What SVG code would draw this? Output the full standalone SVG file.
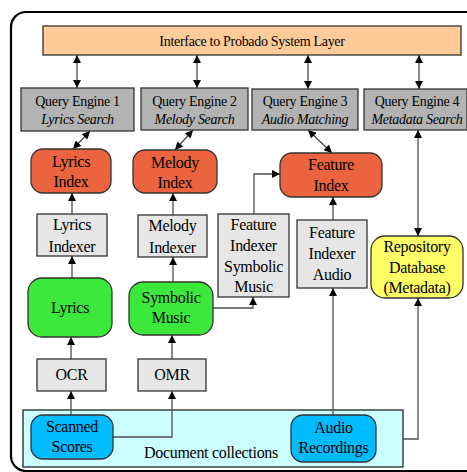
<svg xmlns="http://www.w3.org/2000/svg" width="467" height="472" viewBox="0 0 467 472">
<defs>
<marker id="ah" viewBox="0 0 10 10" refX="10" refY="5" markerWidth="8" markerHeight="8" markerUnits="userSpaceOnUse" orient="auto-start-reverse">
<path d="M0,0 L10,5 L0,10 z" fill="#000"/>
</marker>
<style>
text{font-family:"Liberation Serif","Times New Roman",serif;fill:#000;text-anchor:middle}
.t16{font-size:16px;letter-spacing:-0.3px}
.t14{font-size:14px;letter-spacing:-0.3px}
.it{font-style:italic}
.box{stroke:#333;stroke-width:1.3}
.qe{fill:#b3b3b3}
.ix{fill:#eb643f}
.lg{fill:#e6e6e6}
.gr{fill:#3ce83c}
.bl{fill:#00bbff}
.ye{fill:#ffff66}
.con{fill:none;stroke:#4d4d4d;stroke-width:1.3}
.a1{marker-end:url(#ah)}
.a2{marker-start:url(#ah);marker-end:url(#ah)}
</style>
</defs>
<rect width="467" height="472" fill="#fff"/>
<rect x="11" y="12" width="480" height="459" rx="15" fill="none" stroke="#000" stroke-width="2.2"/>

<g id="collections">
<rect x="23" y="410" width="380" height="57" fill="#ccffff" stroke="#222" stroke-width="1.3"/>
<text class="t16" x="211" y="458">Document collections</text>
</g>

<g id="connectors">
<line class="con a2" x1="77" y1="55" x2="77" y2="88"/>
<line class="con a2" x1="197" y1="55" x2="197" y2="88"/>
<line class="con a2" x1="308" y1="55" x2="308" y2="89"/>
<line class="con a2" x1="419" y1="55" x2="419" y2="89"/>
<line class="con a2" x1="90" y1="131" x2="73" y2="149"/>
<line class="con a2" x1="193" y1="130" x2="175" y2="150"/>
<line class="con a2" x1="308" y1="130" x2="332" y2="153"/>
<line class="con a2" x1="418" y1="130" x2="418" y2="236"/>
<line class="con a1" x1="72" y1="214" x2="72" y2="193"/>
<line class="con a1" x1="72" y1="278" x2="72" y2="256"/>
<line class="con a1" x1="173" y1="215" x2="173" y2="193"/>
<line class="con a1" x1="173" y1="282" x2="173" y2="257"/>
<polyline class="con a1" points="213,308 253,308 253,297"/>
<polyline class="con a1" points="254,214 254,174 280,174"/>
<line class="con a1" x1="333" y1="220" x2="333" y2="197"/>
<line class="con a1" x1="333" y1="415" x2="333" y2="288"/>
<polyline class="con a1" points="403,439 418,439 418,298"/>
<line class="con a1" x1="71" y1="415" x2="71" y2="391"/>
<line class="con a1" x1="71" y1="359" x2="71" y2="337"/>
<polyline class="con a1" points="113,437 172,437 172,391"/>
<line class="con a1" x1="172" y1="359" x2="172" y2="335"/>
</g>

<g id="interface">
<rect class="box" x="43" y="26" width="418" height="29" fill="#ffcc99"/>
<text class="t14" x="252" y="46">Interface to Probado System Layer</text>
</g>

<g id="qe1">
<rect class="box qe" x="21" y="88" width="113" height="43"/>
<text class="t14" x="77.5" y="106">Query Engine 1</text>
<text class="t14 it" x="77.5" y="124">Lyrics Search</text>
</g>
<g id="qe2">
<rect class="box qe" x="141" y="88" width="107" height="42"/>
<text class="t14" x="194.5" y="106">Query Engine 2</text>
<text class="t14 it" x="194.5" y="124">Melody Search</text>
</g>
<g id="qe3">
<rect class="box qe" x="252" y="89" width="106" height="41"/>
<text class="t14" x="305" y="106">Query Engine 3</text>
<text class="t14 it" x="305" y="124">Audio Matching</text>
</g>
<g id="qe4">
<rect class="box qe" x="364" y="89" width="103" height="41"/>
<text class="t14" x="417" y="106">Query Engine 4</text>
<text class="t14 it" x="417" y="124">Metadata Search</text>
</g>

<g id="lyrics-index">
<rect class="box ix" x="31" y="149" width="80" height="44" rx="12"/>
<text class="t16" x="71" y="167">Lyrics</text>
<text class="t16" x="71" y="187">Index</text>
</g>
<g id="melody-index">
<rect class="box ix" x="133" y="150" width="84" height="43" rx="12"/>
<text class="t16" x="175" y="168">Melody</text>
<text class="t16" x="175" y="188">Index</text>
</g>
<g id="feature-index">
<rect class="box ix" x="280" y="153" width="102" height="44" rx="12"/>
<text class="t16" x="331" y="170">Feature</text>
<text class="t16" x="331" y="191">Index</text>
</g>

<g id="lyrics-indexer">
<rect class="box lg" x="37" y="214" width="70" height="42"/>
<text class="t16" x="72" y="230">Lyrics</text>
<text class="t16" x="72" y="252">Indexer</text>
</g>
<g id="melody-indexer">
<rect class="box lg" x="138" y="215" width="69" height="42"/>
<text class="t16" x="172.5" y="231">Melody</text>
<text class="t16" x="172.5" y="253">Indexer</text>
</g>
<g id="feature-indexer-symbolic">
<rect class="box lg" x="218" y="214" width="71" height="83"/>
<text class="t16" x="253.5" y="230">Feature</text>
<text class="t16" x="253.5" y="251">Indexer</text>
<text class="t16" x="253.5" y="272">Symbolic</text>
<text class="t16" x="253.5" y="292">Music</text>
</g>
<g id="feature-indexer-audio">
<rect class="box lg" x="297" y="220" width="70" height="68"/>
<text class="t16" x="332" y="238">Feature</text>
<text class="t16" x="332" y="259">Indexer</text>
<text class="t16" x="332" y="280">Audio</text>
</g>
<g id="repository">
<rect class="box ye" x="371" y="236" width="92" height="62" rx="14"/>
<text class="t16" x="417" y="252">Repository</text>
<text class="t16" x="417" y="273">Database</text>
<text class="t16" x="417" y="293">(Metadata)</text>
</g>

<g id="lyrics">
<rect class="box gr" x="28" y="278" width="84" height="59" rx="14"/>
<text class="t16" x="70" y="313">Lyrics</text>
</g>
<g id="symbolic-music">
<rect class="box gr" x="129" y="282" width="84" height="53" rx="14"/>
<text class="t16" x="171" y="303">Symbolic</text>
<text class="t16" x="171" y="323">Music</text>
</g>

<g id="ocr">
<rect class="box lg" x="37" y="359" width="69" height="32"/>
<text class="t16" x="71.5" y="380">OCR</text>
</g>
<g id="omr">
<rect class="box lg" x="138" y="359" width="68" height="32"/>
<text class="t16" x="172" y="380">OMR</text>
</g>

<g id="scanned-scores">
<rect class="box bl" x="31" y="415" width="82" height="44" rx="12"/>
<text class="t16" x="72" y="432">Scanned</text>
<text class="t16" x="72" y="452">Scores</text>
</g>
<g id="audio-recordings">
<rect class="box bl" x="291" y="415" width="85" height="47" rx="12"/>
<text class="t16" x="333.5" y="433">Audio</text>
<text class="t16" x="333.5" y="453">Recordings</text>
</g>
</svg>
